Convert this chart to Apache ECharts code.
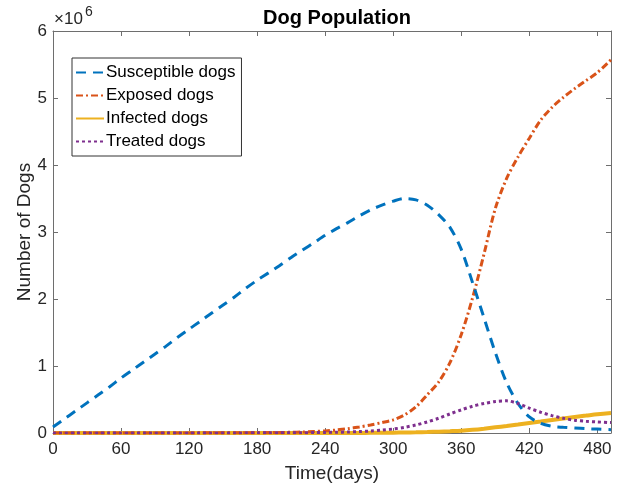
<!DOCTYPE html>
<html>
<head>
<meta charset="utf-8">
<script src="https://cdn.jsdelivr.net/npm/echarts@6/dist/echarts.min.js"></script>
<style>
html,body{margin:0;padding:0;background:#fff;}
#chart{width:629px;height:491px;}
</style>
</head>
<body>
<div id="chart"></div>
<script>
// Time points (days)
var days = [0, 10, 20, 30, 40, 50, 60, 70, 80, 90, 100, 110, 120, 130, 140, 150, 160, 170, 180, 190,
            200, 210, 220, 230, 240, 250, 260, 270, 280, 290, 300, 310, 320, 330, 340, 350, 360, 370, 380, 390,
            400, 410, 420, 430, 440, 450, 460, 470, 480, 492];
// Series values (number of dogs, in millions)
var susceptible = [0.09, 0.21, 0.33, 0.45, 0.57, 0.69, 0.82, 0.94, 1.06, 1.18, 1.30, 1.43, 1.55, 1.67, 1.79, 1.91, 2.03, 2.16, 2.28, 2.39,
                   2.50, 2.62, 2.73, 2.84, 2.95, 3.05, 3.14, 3.24, 3.33, 3.40, 3.46, 3.50, 3.48, 3.40, 3.26, 3.07, 2.74, 2.24, 1.72, 1.20,
                   0.75, 0.44, 0.24, 0.145, 0.10, 0.085, 0.075, 0.065, 0.058, 0.05];
var exposed     = [0, 0, 0, 0, 0, 0, 0, 0, 0.001, 0.001, 0.001, 0.001, 0.001, 0.002, 0.002, 0.002, 0.003, 0.003, 0.004, 0.006,
                   0.008, 0.011, 0.015, 0.022, 0.03, 0.045, 0.065, 0.09, 0.12, 0.155, 0.195, 0.27, 0.39, 0.57, 0.76, 1.05, 1.47, 2.02, 2.67, 3.35,
                   3.80, 4.12, 4.40, 4.67, 4.86, 5.01, 5.14, 5.26, 5.38, 5.57];
var infected    = [0, 0, 0, 0, 0, 0, 0, 0, 0, 0, 0, 0, 0, 0, 0, 0, 0, 0, 0, 0,
                   0, 0, 0, 0, 0, 0, 0.001, 0.001, 0.002, 0.003, 0.005, 0.007, 0.01, 0.014, 0.02, 0.027, 0.035, 0.048, 0.065, 0.085,
                   0.105, 0.127, 0.15, 0.172, 0.195, 0.218, 0.24, 0.26, 0.28, 0.30];
var treated     = [0, 0, 0, 0, 0, 0, 0, 0, 0, 0, 0, 0, 0, 0, 0, 0.001, 0.001, 0.002, 0.002, 0.003,
                   0.003, 0.004, 0.005, 0.006, 0.008, 0.011, 0.015, 0.022, 0.03, 0.043, 0.06, 0.085, 0.12, 0.165, 0.22, 0.285, 0.345, 0.40, 0.44, 0.47,
                   0.48, 0.44, 0.37, 0.31, 0.26, 0.22, 0.19, 0.175, 0.165, 0.155];
var seriesNames = ['Susceptible dogs', 'Exposed dogs', 'Infected dogs', 'Treated dogs'];
var xTickLabels = ['0', '60', '120', '180', '240', '300', '360', '420', '480'];
var yTickLabels = ['0', '1', '2', '3', '4', '5', '6'];
var scale = 1e6;

function pairs(vals) {
  return days.map(function (d, i) { return [d, vals[i] * scale]; });
}

var font = 'Liberation Sans, Arial, Helvetica, sans-serif';
var txt = '#262626';
var axisCol = '#6e6e6e';

var chart = echarts.init(document.getElementById('chart'), null, {renderer: 'canvas'});

var commonX = {
  type: 'value', min: 0, max: 492, interval: 60,
  axisLine: {show: true, onZero: false, lineStyle: {color: axisCol, width: 1}},
  axisTick: {show: true, inside: true, length: 5, lineStyle: {color: axisCol}},
  splitLine: {show: false}
};
var commonY = {
  type: 'value', min: 0, max: 6 * scale, interval: scale,
  axisLine: {show: true, onZero: false, lineStyle: {color: axisCol, width: 1}},
  axisTick: {show: true, inside: true, length: 5, lineStyle: {color: axisCol}},
  splitLine: {show: false}
};

var option = {
  backgroundColor: '#fff',
  animation: false,
  title: {
    text: 'Dog Population', left: 332, top: 3, textAlign: 'center',
    textStyle: {fontFamily: font, fontSize: 20, fontWeight: 'bold', color: '#000'}
  },
  grid: {left: 53, right: 18, top: 31, bottom: 58, containLabel: false},
  legend: {
    orient: 'vertical', left: 72, top: 58,
    data: seriesNames,
    itemWidth: 28, itemHeight: 14, itemGap: 6,
    padding: [6, 6, 6, 3],
    backgroundColor: '#fff',
    borderColor: '#333', borderWidth: 1,
    itemStyle: {opacity: 0},
    textStyle: {fontFamily: font, fontSize: 17, color: '#000', padding: [0, 0, 0, -3]}
  },
  graphic: [
    {
      type: 'text', left: 54, top: 11,
      style: {text: '\u00d710', fontFamily: font, fontSize: 17, fill: txt}
    },
    {
      type: 'text', left: 85, top: 5,
      style: {text: '6', fontFamily: font, fontSize: 14, fill: txt}
    }
  ],
  xAxis: [
    Object.assign({}, commonX, {
      position: 'bottom',
      name: 'Time(days)', nameLocation: 'middle', nameGap: 31, nameMoveOverlap: false,
      nameTextStyle: {fontFamily: font, fontSize: 19, color: txt},
      axisLabel: {
        fontFamily: font, fontSize: 17, color: txt, margin: 8,
        showMaxLabel: false,
        formatter: function (v) { var i = v / 60; return (v % 60 === 0 && xTickLabels[i] !== undefined) ? xTickLabels[i] : ''; }
      }
    }),
    Object.assign({}, commonX, {position: 'top', axisLabel: {show: false}})
  ],
  yAxis: [
    Object.assign({}, commonY, {
      position: 'left',
      name: 'Number of Dogs', nameLocation: 'middle', nameGap: 19, nameMoveOverlap: false,
      nameTextStyle: {fontFamily: font, fontSize: 19, color: txt},
      axisLabel: {
        fontFamily: font, fontSize: 17, color: txt, margin: 6,
        formatter: function (v) { var i = Math.round(v / scale); return yTickLabels[i]; }
      }
    }),
    Object.assign({}, commonY, {position: 'right', axisLabel: {show: false}})
  ],
  series: [
    {
      name: seriesNames[0], type: 'line', data: pairs(susceptible), showSymbol: false, symbol: 'none',
      smooth: 0.3, z: 4,
      lineStyle: {color: '#0072BD', width: 3, type: [10, 7]}, itemStyle: {color: '#0072BD'}
    },
    {
      name: seriesNames[1], type: 'line', data: pairs(exposed), showSymbol: false, symbol: 'none',
      smooth: 0.3, z: 3,
      lineStyle: {color: '#D95319', width: 3, type: [7, 3, 2, 3]}, itemStyle: {color: '#D95319'}
    },
    {
      name: seriesNames[2], type: 'line', data: pairs(infected), showSymbol: false, symbol: 'none',
      smooth: 0.3, z: 2,
      lineStyle: {color: '#EDB120', width: 4, type: 'solid'}, itemStyle: {color: '#EDB120'}
    },
    {
      name: seriesNames[3], type: 'line', data: pairs(treated), showSymbol: false, symbol: 'none',
      smooth: 0.3, z: 5,
      lineStyle: {color: '#7E2F8E', width: 3, type: [3, 3]}, itemStyle: {color: '#7E2F8E'}
    }
  ]
};
chart.setOption(option);
</script>
</body>
</html>
